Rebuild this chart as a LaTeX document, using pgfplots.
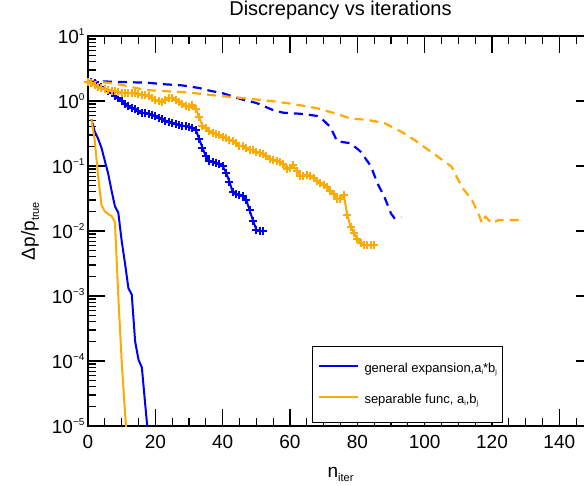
\documentclass[border=0pt]{standalone}
\usepackage{fontspec}
\setmainfont{Liberation Sans}
\usepackage{pgfplots}
\pgfplotsset{compat=1.18}
\definecolor{rblue}{RGB}{0,0,245}
\definecolor{rorange}{RGB}{255,170,0}
\newcommand{\sups}[1]{\raisebox{8.5pt}{\fontsize{10}{10}\selectfont #1}}
\newcommand{\lsub}[1]{\raisebox{-2.5pt}{\fontsize{7}{7}\selectfont #1}}
\begin{document}
\begin{tikzpicture}
\begin{axis}[
  at={(0,0)}, anchor=south west,
  scale only axis, width=505pt, height=390pt,
  xmin=0, xmax=150, ymode=log, log basis y=10, ymin=1e-5, ymax=10,
  xtick={0,20,...,140}, minor xtick={5,10,15,25,30,35,45,50,55,65,70,75,85,90,95,105,110,115,125,130,135,145},
  ytick={1e-5,1e-4,1e-3,1e-2,1e-1,1,10},
  minor ytick={2e-5,3e-5,4e-5,5e-5,6e-5,7e-5,8e-5,9e-5,
               2e-4,3e-4,4e-4,5e-4,6e-4,7e-4,8e-4,9e-4,
               2e-3,3e-3,4e-3,5e-3,6e-3,7e-3,8e-3,9e-3,
               2e-2,3e-2,4e-2,5e-2,6e-2,7e-2,8e-2,9e-2,
               0.2,0.3,0.4,0.5,0.6,0.7,0.8,0.9,
               2,3,4,5,6,7,8,9},
  yticklabels={10\sups{−5},10\sups{−4},10\sups{−3},10\sups{−2},10\sups{−1},10\sups{0},10\sups{1}},
  tick align=inside, tick pos=both,
  major tick length=17pt, minor tick length=8pt,
  every major tick/.append style={draw=black, line width=1.1pt},
  every minor tick/.append style={draw=black, line width=1.1pt},
  axis line style={line width=1.2pt},
  /pgf/number format/assume math mode=true,
  tick label style={font=\fontsize{19}{19}\selectfont},
  xticklabel style={yshift=-6pt},
  title={Discrepancy vs iterations},
  title style={at={(axis description cs:0.5,1)}, anchor=base, yshift=15pt, font=\fontsize{20}{20}\selectfont},
  xlabel={n\raisebox{-4pt}{\fontsize{11}{11}\selectfont iter}},
  xlabel style={at={(axis description cs:0.5,0)}, anchor=base, yshift=-51pt, font=\fontsize{19}{19}\selectfont},
  ylabel={Δp/p\raisebox{-4pt}{\fontsize{11}{11}\selectfont true}},
  ylabel style={at={(axis description cs:0,0.5)}, anchor=center, rotate=0, yshift=58pt, font=\fontsize{19}{19}\selectfont},
  legend style={at={(axis description cs:0.4436,0.0077)}, anchor=south west, draw=black, line width=1pt, fill=white,
    inner xsep=5pt, inner ysep=16.5pt, row sep=19pt, column sep=6pt,
    font=\fontsize{13}{13}\selectfont,
    nodes={inner sep=0pt, text height=9pt, text depth=3pt}},
  legend cell align=left,
  legend image code/.code={\draw[#1, line width=2pt] (0pt,0.27em) -- (39pt,0.27em);},
]
% dashed curves
\addplot[rblue, line width=2.2pt, dash pattern=on 9pt off 6pt, forget plot] coordinates {
(0,1.995) (5,1.995) (12,1.950) (18,1.905) (22,1.820) (28,1.738) (33,1.585) (36,1.445) (40,1.318)
(46,1.047) (50,0.933) (55,0.724) (58,0.661) (64,0.631) (68,0.589) (70,0.501) (72,0.398) (74,0.240)
(78,0.224) (81,0.166) (84,0.100) (86,0.0537) (88,0.0339) (90,0.0186) (91,0.0158) (93,0.0166)};
\addplot[rorange, line width=2.2pt, dash pattern=on 9pt off 6pt, forget plot] coordinates {
(0,2.04) (8,1.862) (17,1.479) (23,1.413) (30,1.349) (37,1.230) (47,1.096) (56,0.977) (60,0.912)
(68,0.776) (74,0.631) (78,0.537) (83,0.513) (88,0.457) (93,0.339) (97,0.251) (101,0.178) (104,0.138)
(108,0.0977) (111,0.0479) (114,0.0302) (116,0.0186) (117,0.0132) (118,0.0166) (120,0.0132) (122,0.0148) (128,0.0148)};
% marked curves
\addplot[rblue, line width=2pt, mark=+, mark size=4pt, mark options={line width=2pt}, forget plot] coordinates {
(0,1.995) (1,1.950) (2,1.862) (3,1.778) (4,1.660) (5,1.549) (6,1.445) (7,1.318) (8,1.202) (9,1.096)
(10,1.000) (11,0.912) (12,0.851) (13,0.794) (14,0.741) (15,0.700) (16,0.661) (17,0.646) (18,0.631) (19,0.617)
(20,0.589) (21,0.550) (22,0.525) (23,0.490) (24,0.468) (25,0.457) (26,0.447) (27,0.427) (28,0.417) (29,0.407)
(30,0.398) (31,0.389) (32,0.363) (33,0.263) (34,0.191) (35,0.141) (36,0.120) (37,0.115) (38,0.112) (39,0.107)
(40,0.100) (41,0.0794) (42,0.0575) (43,0.0398) (44,0.0372) (45,0.0363) (46,0.0347) (47,0.0302) (48,0.0209) (49,0.0145)
(50,0.0105) (51,0.0100) (52,0.0100)};
\addplot[rorange, line width=2pt, mark=+, mark size=4pt, mark options={line width=2pt}, forget plot] coordinates {
(0,1.995) (1,1.905) (2,1.778) (3,1.660) (4,1.585) (5,1.514) (6,1.479) (7,1.445) (8,1.413) (9,1.380)
(10,1.349) (11,1.318) (12,1.318) (13,1.318) (14,1.318) (15,1.288) (16,1.259) (17,1.230) (18,1.175) (19,1.096)
(20,1.047) (21,1.000) (22,0.977) (23,1.023) (24,1.096) (25,1.122) (26,1.047) (27,0.977) (28,0.912) (29,0.851)
(30,0.813) (31,0.871) (32,0.759) (33,0.562) (34,0.417) (35,0.380) (36,0.347) (37,0.324) (38,0.309) (39,0.295)
(40,0.282) (41,0.269) (42,0.251) (43,0.240) (44,0.224) (45,0.204) (46,0.200) (47,0.191) (48,0.178) (49,0.174)
(50,0.166) (51,0.158) (52,0.151) (53,0.141) (54,0.129) (55,0.123) (56,0.120) (57,0.115) (58,0.107) (59,0.0912)
(60,0.0933) (61,0.102) (62,0.0832) (63,0.0708) (64,0.0708) (65,0.0724) (66,0.0708) (67,0.0646) (68,0.0589) (69,0.0550)
(70,0.0513) (71,0.0468) (72,0.0417) (73,0.0372) (74,0.0316) (75,0.0316) (76,0.0355) (77,0.0178) (78,0.0117) (79,0.00933)
(80,0.00759) (81,0.00661) (82,0.00617) (83,0.00603) (84,0.00603) (85,0.00603)};
% solid curves
\addplot[rblue, line width=2pt] coordinates {
(1,0.525) (2,0.339) (3,0.263) (4,0.191) (5,0.120) (6,0.0759) (7,0.0417) (8,0.0240) (9,0.0191)
(10,0.00708) (11,0.00316) (12,0.00132) (13,0.00105) (14,0.000200) (15,0.000105) (16,0.0000794) (17,0.0000214) (18,0.0000059)};
\addlegendentry{general expansion,a\lsub{i}*b\lsub{j}\hspace{90pt}}
\addplot[rorange, line width=2pt] coordinates {
(1,0.525) (2,0.251) (3,0.0708) (4,0.0251) (5,0.0200) (6,0.0182) (7,0.0170) (8,0.0138) (9,0.00100)
(10,0.000100) (11,0.0000158) (12,0.00000316)};
\addlegendentry{separable func, a\lsub{i},b\lsub{j}}
\end{axis}
\pgfresetboundingbox
\useasboundingbox (-88pt,-59pt) rectangle (496pt,426pt);
\end{tikzpicture}
\end{document}
